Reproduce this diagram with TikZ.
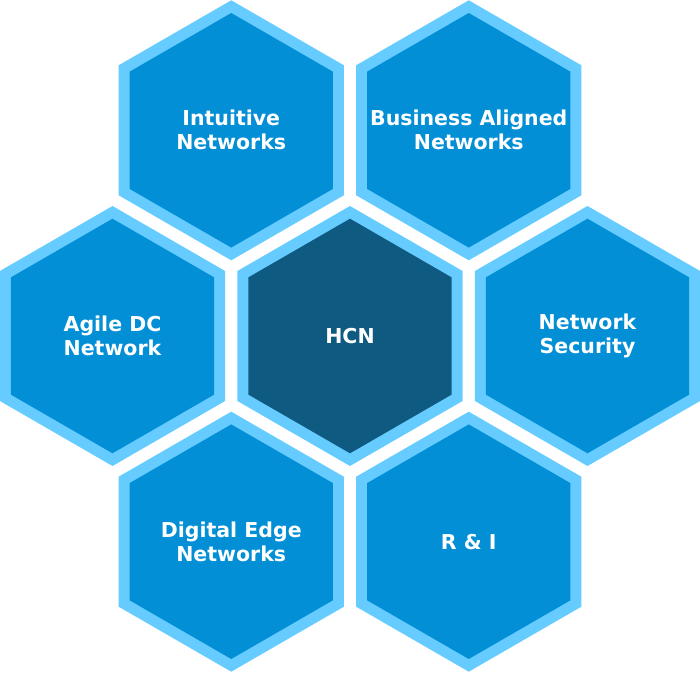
\documentclass[tikz,border=0pt]{standalone}
\usepackage{fontspec}
\setmainfont{DejaVu Sans}
\definecolor{hexborder}{HTML}{66CCFF}
\definecolor{hexfill}{HTML}{038FD6}
\definecolor{hexdark}{HTML}{0F5A80}
\tikzset{
  hexlabel/.style={text=white, font=\bfseries\fontsize{20.5}{24}\selectfont, align=center, inner sep=0pt},
}
\newcommand\hexcellat[3]{%
  \fill[hexborder] (#1pt,#2pt) ++(90:130pt) -- ++(210:130pt) -- ++(270:130pt) -- ++(330:130pt) -- ++(30:130pt) -- ++(90:130pt) -- cycle;
  \fill[#3] (#1pt,#2pt) ++(90:117.3pt) -- ++(210:117.3pt) -- ++(270:117.3pt) -- ++(330:117.3pt) -- ++(30:117.3pt) -- ++(90:117.3pt) -- cycle;
}
\begin{document}
\begin{tikzpicture}[x=1pt,y=1pt]
  \useasboundingbox (0,0) rectangle (700,672);
  \hexcellat{231.25}{541.7}{hexfill}
  \hexcellat{468.75}{541.7}{hexfill}
  \hexcellat{112.5}{336}{hexfill}
  \hexcellat{350}{336}{hexdark}
  \hexcellat{587.5}{336}{hexfill}
  \hexcellat{231.25}{130.3}{hexfill}
  \hexcellat{468.75}{130.3}{hexfill}
  \node[hexlabel] (intuitive) at (231.25,541.7) {Intuitive\\Networks};
  \node[hexlabel] (business) at (468.75,541.7) {Business Aligned\\Networks};
  \node[hexlabel] (agile) at (112.5,336) {Agile DC\\Network};
  \node[hexlabel] (hcn) at (350,336) {HCN};
  \node[hexlabel] (security) at (587.5,336) {Network\\Security};
  \node[hexlabel] (digital) at (231.25,130.3) {Digital Edge\\Networks};
  \node[hexlabel] (ri) at (468.75,130.3) {R \& I};
\end{tikzpicture}
\end{document}
